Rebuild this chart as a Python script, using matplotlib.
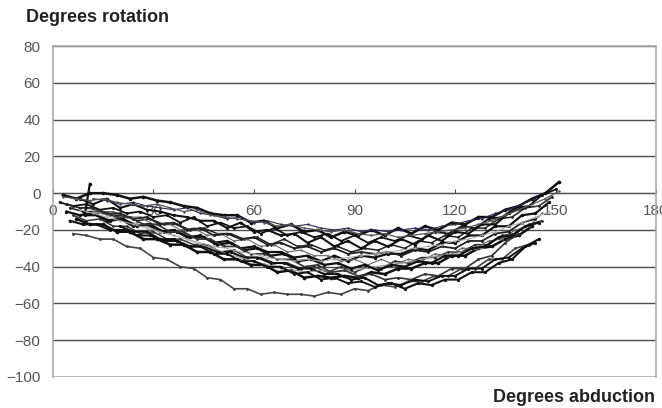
import numpy as np
import matplotlib
matplotlib.use("Agg")
import matplotlib.pyplot as plt

plt.rcParams['font.family'] = ['Liberation Sans', 'DejaVu Sans']

# each trial: start abduction (deg), rotation values sampled every 4 deg of abduction
STEP = 4
trials = {
    'A': (3, [-1, -3, 0, 0, -1, -3, -2, -4, -5, -7, -8, -11, -12, -12, -16, -15, -19, -17, -21, -20,
              -24, -21, -23, -20, -23, -19, -22, -18, -20, -16, -17, -13, -13, -9, -7, -3, 0, 6]),
    'B': (2, [-5, -7, -6, -9, -8, -11, -10, -13, -12, -16, -13, -18, -16, -19, -18, -22, -19, -23, -21, -24,
              -22, -26, -23, -27, -24, -26, -23, -25, -21, -22, -18, -19, -14, -13, -8, -7, -1, 2]),
    'C': (5, [-8, -10, -10, -12, -12, -15, -14, -17, -17, -20, -19, -22, -22, -25, -24, -28, -25, -29, -28, -31,
              -29, -32, -30, -31, -28, -30, -26, -27, -23, -24, -19, -19, -14, -13, -8, -7, -2]),
    'D': (4, [-10, -12, -11, -15, -14, -18, -17, -21, -20, -24, -23, -27, -26, -30, -29, -32, -32, -35, -34, -37,
              -34, -37, -34, -35, -33, -33, -30, -31, -27, -27, -23, -23, -18, -18, -12, -11, -5]),
    'E': (6, [-12, -15, -14, -18, -18, -22, -21, -25, -25, -28, -28, -32, -31, -35, -35, -38, -38, -41, -40, -43,
              -40, -43, -40, -41, -37, -38, -35, -35, -32, -32, -28, -28, -23, -22, -17, -15]),
    'F': (7, [-14, -17, -17, -21, -21, -25, -25, -28, -28, -32, -32, -36, -36, -39, -39, -43, -42, -46, -45, -46,
              -45, -46, -43, -44, -41, -41, -38, -38, -34, -34, -30, -29, -25, -23, -18]),
    'G': (6, [-22, -23, -25, -25, -29, -30, -35, -36, -40, -41, -46, -47, -52, -52, -55, -54, -55, -55, -56, -54,
              -55, -52, -53, -50, -51, -48, -48, -45, -45, -41, -41, -36, -36, -30, -28]),
    'H': (5, [-15, -17, -17, -20, -20, -23, -23, -26, -26, -29, -29, -32, -32, -35, -35, -38, -38, -41, -41, -44,
              -44, -47, -46, -50, -49, -52, -49, -50, -47, -47, -43, -43, -38, -36, -29, -25]),
    'I': (10, [-8, -10, -10, -13, -13, -17, -16, -20, -19, -23, -22, -26, -25, -29, -28, -32, -31, -34, -34, -37,
               -36, -39, -36, -39, -36, -37, -33, -34, -30, -30, -26, -25, -20, -18, -11]),
    'J': (8, [-3, -6, -3, -8, -6, -9, -10, -12, -13, -15, -15, -19, -16, -21, -20, -23, -22, -27, -24, -29,
              -26, -30, -26, -29, -25, -28, -23, -26, -21, -22, -17, -17, -11, -8]),
    'K': (12, [-10, -12, -14, -16, -18, -21, -23, -25, -28, -30, -33, -35, -37, -39, -41, -42, -43, -42, -43, -42,
               -41, -40, -39, -38, -37, -35, -34, -33, -31, -30]),
    'L': (4, [-6, -8, -8, -11, -11, -14, -13, -17, -16, -20, -19, -23, -22, -25, -24, -28, -27, -30, -29, -32,
              -30, -33, -32, -33, -32, -34, -31, -32, -29, -30, -26, -26, -22, -21, -16, -14]),
    'M': (13, [-12, -15, -14, -18, -17, -21, -21, -24, -24, -28, -27, -31, -30, -34, -33, -37, -36, -39, -38, -41,
               -39, -42, -39, -40, -37, -38, -34, -34, -30, -29, -24, -23, -18, -16]),
    'N': (12, [-3, -4, -6, -5, -7, -8, -9, -8, -11, -12, -14, -13, -16, -15, -17, -18, -17, -19, -20, -19,
               -21, -20, -21, -20, -19, -20, -18, -17, -15, -14, -11, -9, -6, -3]),
    'O': (15, [-10, -13, -13, -17, -17, -21, -21, -25, -25, -29, -29, -33, -33, -36, -36, -40, -39, -43, -42, -45,
               -44, -47, -46, -47, -44, -45, -41, -41, -36, -34, -27, -22]),
    'P': (20, [-18, -21, -21, -25, -25, -29, -29, -33, -33, -37, -37, -40, -40, -44, -43, -47, -46, -49, -48, -51,
               -49, -50, -47, -48, -45, -45, -41, -41, -36, -35, -30, -27]),
    'Q': (3, [-2, -3, -4, -3, -5, -6, -7, -6, -8, -10, -9, -12, -13, -14, -15, -16, -18, -17, -19, -20,
              -21, -20, -22, -23, -22, -24, -23, -22, -21, -20, -19, -17, -15, -12, -9, -6, -3, 1]),
    'R': (8, [-9, -11, -13, -15, -17, -19, -21, -23, -25, -27, -29, -30, -32, -33, -35, -36, -37, -36, -37, -36,
              -35, -34, -33, -32, -31, -30, -29, -28, -26, -25, -23, -21, -18, -16, -13, -10]),
}
# the trial that starts with a jump
m_head_x = [11.0, 9.5]
m_head_y = [5, -12]

x_ticks = [0, 30, 60, 90, 120, 150, 180]
y_ticks = [-100, -80, -60, -40, -20, 0, 20, 40, 60, 80]

styles = {
    'A': ('#111111', 1.8), 'B': ('#111111', 1.3), 'C': ('#222222', 1.1), 'D': ('#111111', 1.6),
    'E': ('#333333', 1.1), 'F': ('#111111', 1.8), 'G': ('#444444', 1.2), 'H': ('#111111', 1.5),
    'I': ('#666666', 0.8), 'J': ('#111111', 1.5), 'K': ('#999999', 0.7), 'L': ('#222222', 1.3),
    'M': ('#111111', 1.6), 'N': ('#2a2a55', 0.8), 'O': ('#333333', 1.2), 'P': ('#111111', 1.4),
    'Q': ('#555555', 0.9), 'R': ('#aaaaaa', 0.7),
}

fig = plt.figure(figsize=(6.62, 4.08), dpi=100)
ax = fig.add_axes([0.080, 0.076, 0.911, 0.811])

for name, (x0, ys) in trials.items():
    xs = x0 + STEP * np.arange(len(ys))
    ys = list(ys)
    if name == 'M':
        xs = np.concatenate([m_head_x, xs])
        ys = m_head_y + ys
    color, lw = styles[name]
    ax.plot(xs, ys, color=color, lw=lw, marker='.', ms=lw * 1.8, zorder=3)

ax.set_xlim(0, 180)
ax.set_ylim(-100, 80)
ax.set_yticks(y_ticks)
ax.set_yticklabels([f'\u2212{abs(v)}' if v < 0 else str(v) for v in y_ticks])
ax.tick_params(axis='y', length=0, pad=9, labelsize=11, labelcolor='#555555')

for v in y_ticks[1:]:
    ax.axhline(v, color='#4d4d4d', lw=1.0, zorder=1)

# x axis sits on the zero line
ax.spines['bottom'].set_position(('data', 0))
ax.spines['bottom'].set_color('#4d4d4d')
ax.spines['bottom'].set_zorder(1)
ax.set_xticks(x_ticks)
ax.tick_params(axis='x', direction='in', length=3, width=0.8, color='#4d4d4d',
               pad=8, labelsize=11, labelcolor='#555555')
for lab in ax.get_xticklabels():
    lab.set_clip_on(False)
ax.axhline(-100, color='#aaaaaa', lw=1.2, zorder=1)
for side in ['left', 'top', 'right']:
    ax.spines[side].set_color('#aaaaaa')
    ax.spines[side].set_linewidth(1.2)

fig.text(26 / 662, 1 - 18 / 408, 'Degrees rotation', fontsize=13, fontweight='bold',
         color='#222222', ha='left', va='center')
fig.text(655 / 662, 1 - 398 / 408, 'Degrees abduction', fontsize=13, fontweight='bold',
         color='#222222', ha='right', va='center')

fig.savefig('out.png', dpi=100)
